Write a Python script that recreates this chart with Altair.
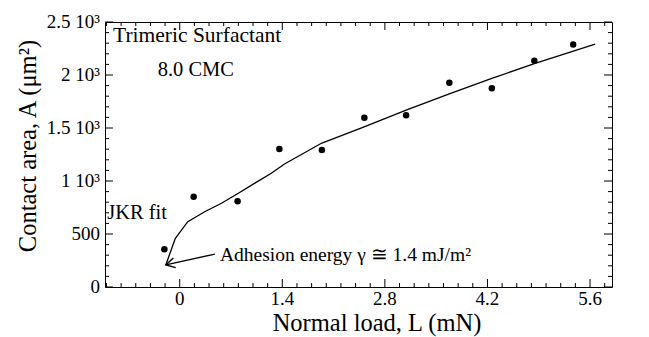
import altair as alt
import pandas as pd

# Measured data points
load_pts = [-0.21, 0.19, 0.79, 1.36, 1.94, 2.52, 3.09, 3.68, 4.26, 4.84, 5.37]
area_pts = [356, 852, 808, 1302, 1292, 1597, 1620, 1927, 1875, 2135, 2288]

# JKR fit curve
fit_load = [-0.19, -0.06, 0.11, 0.34, 0.57, 0.80, 1.02, 1.25, 1.43, 1.94, 2.5, 3.09, 3.67, 4.25, 4.84, 5.67]
fit_area = [208, 459, 616, 710, 790, 884, 978, 1073, 1160, 1358, 1505, 1668, 1820, 1965, 2108, 2292]

# Axis ticks and labels
x_major = [0, 1.4, 2.8, 4.2, 5.6]
x_labels = ["0", "1.4", "2.8", "4.2", "5.6"]
x_minor = [round(-1.0 + 0.2 * i, 1) for i in range(35) if round(-1.0 + 0.2 * i, 1) not in x_major]
y_major = [0, 500, 1000, 1500, 2000, 2500]
y_labels = ["0", "500", "1 10³", "1.5 10³", "2 10³", "2.5 10³"]
y_minor = [v for v in range(0, 2501, 100) if v not in y_major]
x_title = "Normal load, L (mN)"
y_title = "Contact area, A (μm²)"

# Annotations
note_left_text = ["Trimeric Surfactant", "JKR fit", "Adhesion energy  γ ≅ 1.4 mJ/m²"]
note_left_x = [-0.91, -0.99, 0.55]
note_left_y = [2368, 698, 302]
note_left_size = [21.5, 20.5, 19.5]
note_center_text = ["8.0 CMC"]
note_center_x = [0.22]
note_center_y = [2047]

arrow_x = [0.48, -0.19]
arrow_y = [311, 208]

FONT = "Liberation Serif"
W, H = 507, 265
XDOM = [-1.02, 5.9]
YDOM = [0, 2500]

pts = pd.DataFrame({"x": load_pts, "y": area_pts})
fit = pd.DataFrame({"x": fit_load, "y": fit_area})
nl = pd.DataFrame({"x": note_left_x, "y": note_left_y, "t": note_left_text, "s": note_left_size})
nc = pd.DataFrame({"x": note_center_x, "y": note_center_y, "t": note_center_text})
arr = pd.DataFrame({"x": arrow_x, "y": arrow_y, "o": [0, 1]})
tip = arr.iloc[[1]]
xlab = pd.DataFrame({"x": x_major, "t": x_labels})
ylab = pd.DataFrame({"y": y_major, "t": y_labels})
xttl = pd.DataFrame({"t": [x_title]})
yttl = pd.DataFrame({"t": [y_title]})

xs = alt.Scale(domain=XDOM, nice=False, zero=False)
ys = alt.Scale(domain=YDOM, nice=False, zero=False)


def X(field="x"):
    return alt.X(f"{field}:Q", scale=xs, axis=None)


def Y(field="y"):
    return alt.Y(f"{field}:Q", scale=ys, axis=None)


points = alt.Chart(pts).mark_circle(size=42, color="black", opacity=1).encode(x=X(), y=Y())

line = alt.Chart(fit).mark_line(color="black", strokeWidth=1.3).encode(x=X(), y=Y())

# inward ticks on all four sides
tick_layers = []
for vals, length in ((x_major, 8), (x_minor, 4)):
    d = pd.DataFrame({"v": vals})
    tick_layers.append(alt.Chart(d).mark_rule(color="black", strokeWidth=1).encode(
        x=X("v"), y=alt.value(H), y2=alt.value(H - length)))
    tick_layers.append(alt.Chart(d).mark_rule(color="black", strokeWidth=1).encode(
        x=X("v"), y=alt.value(0), y2=alt.value(length)))
for vals, length in ((y_major, 8), (y_minor, 4)):
    d = pd.DataFrame({"v": vals})
    tick_layers.append(alt.Chart(d).mark_rule(color="black", strokeWidth=1).encode(
        y=Y("v"), x=alt.value(0), x2=alt.value(length)))
    tick_layers.append(alt.Chart(d).mark_rule(color="black", strokeWidth=1).encode(
        y=Y("v"), x=alt.value(W), x2=alt.value(W - length)))

# axis labels and titles
xlabels = alt.Chart(xlab).mark_text(font=FONT, fontSize=19, align="center", baseline="middle",
                                    color="black").encode(x=X(), y=alt.value(H + 12), text="t:N")
ylabels = alt.Chart(ylab).mark_text(font=FONT, fontSize=19, align="right", baseline="middle",
                                    color="black").encode(y=Y(), x=alt.value(-5), text="t:N")
xtitle = alt.Chart(xttl).mark_text(font=FONT, fontSize=24.5, align="center", baseline="middle",
                                   color="black").encode(x=alt.value(272), y=alt.value(H + 37), text="t:N")
ytitle = alt.Chart(yttl).mark_text(font=FONT, fontSize=24.5, align="center", baseline="middle",
                                   angle=270, color="black").encode(x=alt.value(-76), y=alt.value(124), text="t:N")

texts_l = alt.Chart(nl).mark_text(font=FONT, align="left", baseline="middle", color="black").encode(
    x=X(), y=Y(), text="t:N",
    size=alt.Size("s:Q", scale=None, legend=None),
)

texts_c = alt.Chart(nc).mark_text(font=FONT, fontSize=20.5, align="center", baseline="middle", color="black").encode(
    x=X(), y=Y(), text="t:N",
)

arrow_line = alt.Chart(arr).mark_line(color="black", strokeWidth=1.3).encode(
    x=X(), y=Y(), order="o:Q",
)

arrow_head = alt.Chart(tip).mark_point(shape="M-1,-0.55L0,0L-1,0.55", filled=False,
                                       color="black", strokeWidth=1.4, size=324,
                                       angle=166, opacity=1).encode(x=X(), y=Y())

chart = alt.layer(points, line, *tick_layers, xlabels, ylabels, xtitle, ytitle,
                  texts_l, texts_c, arrow_line, arrow_head).properties(
    width=W, height=H,
    padding={"left": 105, "top": 22, "right": 37, "bottom": 50},
    autosize=alt.AutoSizeParams(type="none"),
    background="white",
).configure_view(stroke="black", strokeWidth=1)

chart.save("out.html", embed_options={"renderer": "svg", "actions": False})
